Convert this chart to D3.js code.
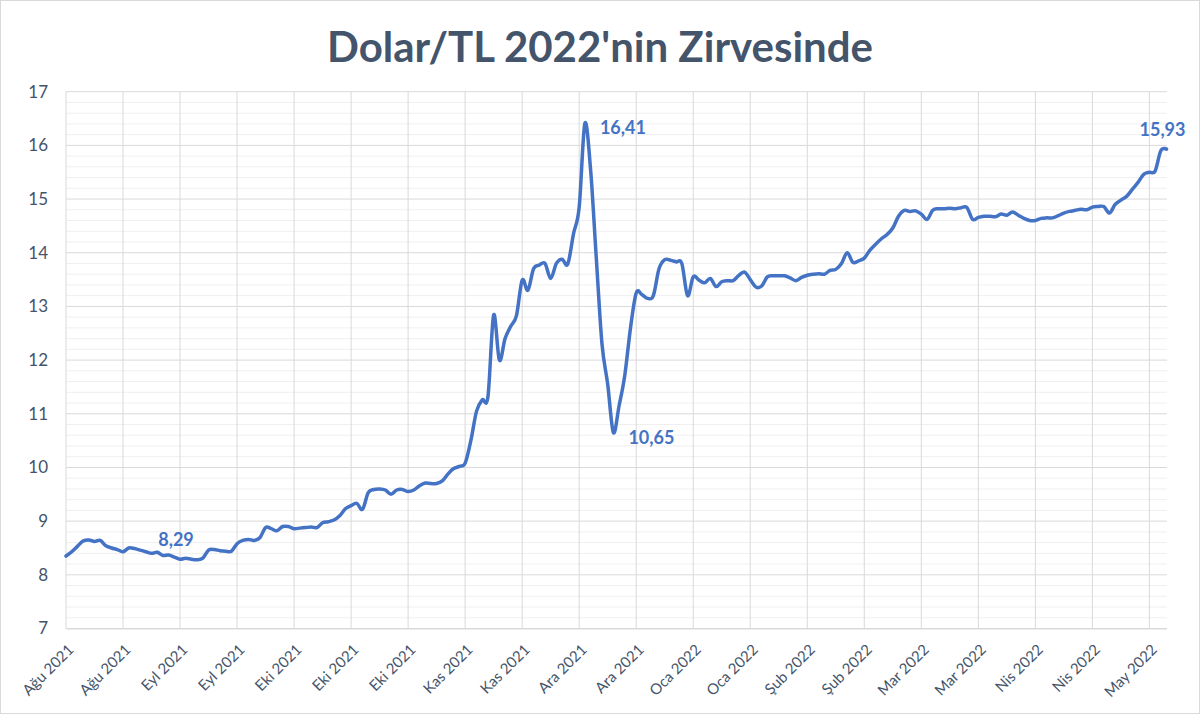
<!DOCTYPE html>
<html><head><meta charset="utf-8">
<script src="https://cdn.jsdelivr.net/npm/d3@7"></script>
<style>body{margin:0;background:#fff}svg{display:block}</style>
</head><body>
<svg id="c" width="1200" height="714"></svg>
<script>
const title = "Dolar/TL 2022'nin Zirvesinde";
const values = [
8.35,8.43,8.53,8.63,8.65,8.62,8.64,8.54,8.50,8.47,
8.43,8.50,8.49,8.46,8.43,8.40,8.42,8.36,8.37,8.33,
8.29,8.31,8.29,8.28,8.31,8.46,8.47,8.45,8.44,8.44,
8.58,8.64,8.66,8.64,8.69,8.88,8.86,8.82,8.90,8.90,
8.86,8.87,8.88,8.89,8.88,8.97,8.99,9.02,9.10,9.23,
9.29,9.33,9.22,9.53,9.59,9.60,9.58,9.50,9.58,9.59,
9.55,9.58,9.66,9.71,9.70,9.70,9.75,9.88,9.98,10.02,
10.08,10.50,11.05,11.26,11.32,12.84,12.00,12.40,12.63,12.83,
13.49,13.30,13.70,13.77,13.80,13.52,13.80,13.88,13.79,14.35,
14.85,16.41,15.55,13.90,12.30,11.55,10.65,11.15,11.72,12.60,
13.25,13.22,13.15,13.20,13.70,13.87,13.86,13.83,13.80,13.20,
13.55,13.49,13.44,13.52,13.37,13.46,13.48,13.48,13.58,13.64,
13.50,13.36,13.38,13.55,13.57,13.57,13.57,13.53,13.48,13.54,
13.58,13.60,13.61,13.60,13.67,13.69,13.80,14.00,13.82,13.85,
13.90,14.05,14.16,14.26,14.34,14.46,14.68,14.79,14.77,14.78,
14.72,14.62,14.79,14.82,14.82,14.83,14.82,14.84,14.84,14.62,
14.66,14.68,14.68,14.67,14.72,14.70,14.76,14.70,14.64,14.60,
14.60,14.64,14.65,14.65,14.69,14.74,14.77,14.79,14.81,14.80,
14.85,14.86,14.86,14.74,14.90,14.98,15.05,15.18,15.31,15.46,
15.50,15.52,15.90,15.93
];
const tickLabels = ["Ağu 2021","Ağu 2021","Eyl 2021","Eyl 2021","Eki 2021","Eki 2021","Eki 2021","Kas 2021","Kas 2021","Ara 2021","Ara 2021","Oca 2022","Oca 2022","Şub 2022","Şub 2022","Mar 2022","Mar 2022","Nis 2022","Nis 2022","May 2022"];
const tickIndex = [0,10,20,30,40,50,60,70,80,90,100,110,120,130,140,150,160,170,180,190];
const yTicks = [7,8,9,10,11,12,13,14,15,16,17];
const annotations = [
  {i:91, text:"16,41", pos:"right"},
  {i:96, text:"10,65", pos:"right"},
  {i:20, text:"8,29", pos:"above"},
  {i:193, text:"15,93", pos:"above"}
];

const svg = d3.select("#c");
const pLeft = 66, pRight = 1166.5, pTop = 91.7, pBottom = 628.5, gridRight = 1167;
const x = d3.scaleLinear().domain([0, values.length-1]).range([pLeft, pRight]);
const y = d3.scaleLinear().domain([7,17]).range([pBottom, pTop]);
const font = "Lato, 'Open Sans', sans-serif";
const textCol = "#44546A";
const blue = "#4472C4";

svg.append("rect").attr("x",0.5).attr("y",0.5).attr("width",1199).attr("height",713)
  .attr("fill","#fff").attr("stroke","#d9d9d9");

// minor gridlines
const minor = d3.range(7, 17.001, 0.2).filter(v => Math.abs(v - Math.round(v)) > 1e-6);
svg.append("g").selectAll("line").data(minor).join("line")
  .attr("x1", pLeft).attr("x2", gridRight).attr("y1", d=>y(d)).attr("y2", d=>y(d))
  .attr("stroke","#efefef").attr("stroke-width",1);
// major horizontal
svg.append("g").selectAll("line").data(yTicks).join("line")
  .attr("x1", pLeft).attr("x2", gridRight).attr("y1", d=>y(d)).attr("y2", d=>y(d))
  .attr("stroke","#d9d9d9").attr("stroke-width",1);
// vertical gridlines
svg.append("g").selectAll("line").data(tickIndex).join("line")
  .attr("x1", d=>x(d)).attr("x2", d=>x(d)).attr("y1", pTop).attr("y2", pBottom)
  .attr("stroke","#d9d9d9").attr("stroke-width",1);

// y axis
const yAxis = d3.axisLeft(y).tickValues(yTicks).tickSize(0).tickPadding(18).tickFormat(d3.format("d"));
const gy = svg.append("g").attr("transform",`translate(${pLeft},0)`).call(yAxis);
gy.select(".domain").remove();
gy.selectAll("text").attr("font-family",font).attr("font-size",17).attr("fill",textCol);

// x axis
const xAxis = d3.axisBottom(x).tickValues(tickIndex).tickSize(0).tickFormat((d,i)=>tickLabels[i]);
const gx = svg.append("g").attr("transform",`translate(0,${pBottom})`).call(xAxis);
gx.select(".domain").attr("stroke","#d9d9d9");
gx.selectAll("text").attr("font-family",font).attr("font-size",15).attr("fill",textCol)
  .attr("text-anchor","end").attr("dy",0).attr("dx",0)
  .attr("transform","translate(6,20) rotate(-45)");

// line
const line = d3.line().x((d,i)=>x(i)).y(d=>y(d)).curve(d3.curveCardinal.tension(0));
svg.append("path").datum(values).attr("d", line).attr("fill","none")
  .attr("stroke", blue).attr("stroke-width",3.5).attr("stroke-linejoin","round").attr("stroke-linecap","round");

// annotations
svg.append("g").selectAll("text").data(annotations).join("text")
  .attr("x", d => d.pos==="right" ? x(d.i)+15 : x(d.i)-4)
  .attr("y", d => d.pos==="right" ? y(values[d.i])+11 : y(values[d.i])-13)
  .attr("text-anchor", d => d.pos==="right" ? "start" : "middle")
  .attr("font-family",font).attr("font-weight","bold").attr("font-size",18).attr("fill",blue)
  .text(d=>d.text);

// title
const t = svg.append("text").attr("x",600).attr("y",62).attr("text-anchor","middle")
  .attr("font-family",font).attr("font-weight","bold").attr("font-size",40).attr("fill",textCol)
  .text(title);
const w = t.node().getComputedTextLength();
t.attr("font-size", 40*546/w);
</script>
</body></html>
